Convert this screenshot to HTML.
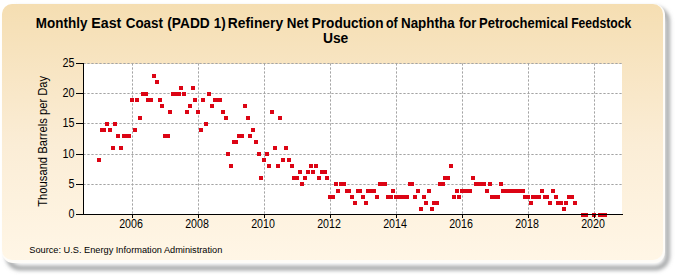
<!DOCTYPE html>
<html><head><meta charset="utf-8"><style>
html,body{margin:0;padding:0;background:#fff;width:675px;height:275px;overflow:hidden}
svg{position:absolute;left:0;top:0}
text{font-family:"Liberation Sans",sans-serif;fill:#000}
</style></head><body>
<svg width="675" height="275" viewBox="0 0 675 275">
<defs>
<linearGradient id="bg" x1="0" y1="0" x2="0" y2="1">
<stop offset="0" stop-color="#f5deb2"/>
<stop offset="0.55" stop-color="#fbedd6"/>
<stop offset="1" stop-color="#fff6e6"/>
</linearGradient>
<filter id="sh" x="-5%" y="-5%" width="110%" height="115%"><feGaussianBlur stdDeviation="2"/></filter>
<filter id="soft" x="-2%" y="-2%" width="104%" height="104%"><feGaussianBlur stdDeviation="0.6"/></filter>
</defs>
<rect x="8" y="9" width="659.5" height="259" rx="12" fill="none" stroke="#939597" stroke-width="4" filter="url(#sh)"/>
<rect x="2" y="4" width="663" height="259" rx="11" fill="#fefcf8" filter="url(#soft)"/>
<rect x="2" y="4" width="661" height="256" rx="10" fill="url(#bg)" filter="url(#soft)"/>
<g fill="#111">
<text x="35.84" y="27.6" font-size="14" font-weight="bold" textLength="51.53" lengthAdjust="spacingAndGlyphs">Monthly</text>
<text x="91.28" y="27.6" font-size="14" font-weight="bold" textLength="30.09" lengthAdjust="spacingAndGlyphs">East</text>
<text x="125.70" y="27.6" font-size="14" font-weight="bold" textLength="37.31" lengthAdjust="spacingAndGlyphs">Coast</text>
<text x="167.30" y="27.6" font-size="14" font-weight="bold" textLength="42.49" lengthAdjust="spacingAndGlyphs">(PADD</text>
<text x="213.75" y="27.6" font-size="14" font-weight="bold" textLength="11.89" lengthAdjust="spacingAndGlyphs">1)</text>
<text x="227.81" y="27.6" font-size="14" font-weight="bold" textLength="55.32" lengthAdjust="spacingAndGlyphs">Refinery</text>
<text x="286.74" y="27.6" font-size="14" font-weight="bold" textLength="21.64" lengthAdjust="spacingAndGlyphs">Net</text>
<text x="311.73" y="27.6" font-size="14" font-weight="bold" textLength="71.74" lengthAdjust="spacingAndGlyphs">Production</text>
<text x="385.90" y="27.6" font-size="14" font-weight="bold" textLength="11.71" lengthAdjust="spacingAndGlyphs">of</text>
<text x="400.94" y="27.6" font-size="14" font-weight="bold" textLength="53.66" lengthAdjust="spacingAndGlyphs">Naphtha</text>
<text x="458.90" y="27.6" font-size="14" font-weight="bold" textLength="17.39" lengthAdjust="spacingAndGlyphs">for</text>
<text x="479.07" y="27.6" font-size="14" font-weight="bold" textLength="89.00" lengthAdjust="spacingAndGlyphs">Petrochemical</text>
<text x="571.13" y="27.6" font-size="14" font-weight="bold" textLength="60.08" lengthAdjust="spacingAndGlyphs">Feedstock</text>
<text x="335.6" y="42.6" font-size="14" font-weight="bold" text-anchor="middle" textLength="25.4" lengthAdjust="spacingAndGlyphs">Use</text>
</g>
<rect x="84" y="64" width="538" height="150" fill="#fff"/>
<g stroke="#a4a4a4" stroke-width="1" stroke-dasharray="2.3,1.7" fill="none">
<line x1="83.35" y1="184.5" x2="622" y2="184.5"/>
<line x1="83.35" y1="154.5" x2="622" y2="154.5"/>
<line x1="83.35" y1="123.5" x2="622" y2="123.5"/>
<line x1="83.35" y1="93.5" x2="622" y2="93.5"/>
<line x1="83.35" y1="63.5" x2="622" y2="63.5"/>
<line x1="132.5" y1="63.35" x2="132.5" y2="214"/>
<line x1="198.5" y1="63.35" x2="198.5" y2="214"/>
<line x1="264.5" y1="63.35" x2="264.5" y2="214"/>
<line x1="330.5" y1="63.35" x2="330.5" y2="214"/>
<line x1="396.5" y1="63.35" x2="396.5" y2="214"/>
<line x1="462.5" y1="63.35" x2="462.5" y2="214"/>
<line x1="528.5" y1="63.35" x2="528.5" y2="214"/>
<line x1="594.5" y1="63.35" x2="594.5" y2="214"/>
</g>
<g fill="#dc0414">
<rect x="97" y="158" width="4" height="4"/>
<rect x="100" y="128" width="4" height="4"/>
<rect x="102" y="128" width="4" height="4"/>
<rect x="105" y="122" width="4" height="4"/>
<rect x="108" y="128" width="4" height="4"/>
<rect x="111" y="146" width="4" height="4"/>
<rect x="113" y="122" width="4" height="4"/>
<rect x="116" y="134" width="4" height="4"/>
<rect x="119" y="146" width="4" height="4"/>
<rect x="122" y="134" width="4" height="4"/>
<rect x="125" y="134" width="4" height="4"/>
<rect x="127" y="134" width="4" height="4"/>
<rect x="130" y="98" width="4" height="4"/>
<rect x="133" y="128" width="4" height="4"/>
<rect x="135" y="98" width="4" height="4"/>
<rect x="138" y="116" width="4" height="4"/>
<rect x="141" y="92" width="4" height="4"/>
<rect x="144" y="92" width="4" height="4"/>
<rect x="146" y="98" width="4" height="4"/>
<rect x="149" y="98" width="4" height="4"/>
<rect x="152" y="74" width="4" height="4"/>
<rect x="155" y="80" width="4" height="4"/>
<rect x="158" y="98" width="4" height="4"/>
<rect x="160" y="104" width="4" height="4"/>
<rect x="163" y="134" width="4" height="4"/>
<rect x="166" y="134" width="4" height="4"/>
<rect x="168" y="110" width="4" height="4"/>
<rect x="171" y="92" width="4" height="4"/>
<rect x="174" y="92" width="4" height="4"/>
<rect x="177" y="92" width="4" height="4"/>
<rect x="179" y="86" width="4" height="4"/>
<rect x="182" y="92" width="4" height="4"/>
<rect x="185" y="110" width="4" height="4"/>
<rect x="188" y="104" width="4" height="4"/>
<rect x="191" y="86" width="4" height="4"/>
<rect x="193" y="98" width="4" height="4"/>
<rect x="196" y="110" width="4" height="4"/>
<rect x="199" y="128" width="4" height="4"/>
<rect x="201" y="98" width="4" height="4"/>
<rect x="204" y="122" width="4" height="4"/>
<rect x="207" y="92" width="4" height="4"/>
<rect x="210" y="104" width="4" height="4"/>
<rect x="213" y="98" width="4" height="4"/>
<rect x="215" y="98" width="4" height="4"/>
<rect x="218" y="98" width="4" height="4"/>
<rect x="221" y="110" width="4" height="4"/>
<rect x="224" y="116" width="4" height="4"/>
<rect x="226" y="152" width="4" height="4"/>
<rect x="229" y="164" width="4" height="4"/>
<rect x="232" y="140" width="4" height="4"/>
<rect x="234" y="140" width="4" height="4"/>
<rect x="237" y="134" width="4" height="4"/>
<rect x="240" y="134" width="4" height="4"/>
<rect x="243" y="104" width="4" height="4"/>
<rect x="246" y="116" width="4" height="4"/>
<rect x="248" y="134" width="4" height="4"/>
<rect x="251" y="128" width="4" height="4"/>
<rect x="254" y="140" width="4" height="4"/>
<rect x="257" y="152" width="4" height="4"/>
<rect x="259" y="176" width="4" height="4"/>
<rect x="262" y="158" width="4" height="4"/>
<rect x="265" y="152" width="4" height="4"/>
<rect x="267" y="164" width="4" height="4"/>
<rect x="270" y="110" width="4" height="4"/>
<rect x="273" y="146" width="4" height="4"/>
<rect x="276" y="164" width="4" height="4"/>
<rect x="278" y="116" width="4" height="4"/>
<rect x="281" y="158" width="4" height="4"/>
<rect x="284" y="146" width="4" height="4"/>
<rect x="287" y="158" width="4" height="4"/>
<rect x="290" y="164" width="4" height="4"/>
<rect x="292" y="176" width="4" height="4"/>
<rect x="295" y="176" width="4" height="4"/>
<rect x="298" y="170" width="4" height="4"/>
<rect x="300" y="182" width="4" height="4"/>
<rect x="303" y="176" width="4" height="4"/>
<rect x="306" y="170" width="4" height="4"/>
<rect x="309" y="164" width="4" height="4"/>
<rect x="311" y="170" width="4" height="4"/>
<rect x="314" y="164" width="4" height="4"/>
<rect x="317" y="176" width="4" height="4"/>
<rect x="320" y="170" width="4" height="4"/>
<rect x="323" y="170" width="4" height="4"/>
<rect x="325" y="176" width="4" height="4"/>
<rect x="328" y="195" width="4" height="4"/>
<rect x="331" y="195" width="4" height="4"/>
<rect x="334" y="182" width="4" height="4"/>
<rect x="336" y="189" width="4" height="4"/>
<rect x="339" y="182" width="4" height="4"/>
<rect x="342" y="182" width="4" height="4"/>
<rect x="345" y="189" width="4" height="4"/>
<rect x="347" y="189" width="4" height="4"/>
<rect x="350" y="195" width="4" height="4"/>
<rect x="353" y="201" width="4" height="4"/>
<rect x="356" y="189" width="4" height="4"/>
<rect x="358" y="189" width="4" height="4"/>
<rect x="361" y="195" width="4" height="4"/>
<rect x="364" y="201" width="4" height="4"/>
<rect x="366" y="189" width="4" height="4"/>
<rect x="369" y="189" width="4" height="4"/>
<rect x="372" y="189" width="4" height="4"/>
<rect x="375" y="195" width="4" height="4"/>
<rect x="378" y="182" width="4" height="4"/>
<rect x="380" y="182" width="4" height="4"/>
<rect x="383" y="182" width="4" height="4"/>
<rect x="386" y="195" width="4" height="4"/>
<rect x="389" y="195" width="4" height="4"/>
<rect x="391" y="189" width="4" height="4"/>
<rect x="394" y="195" width="4" height="4"/>
<rect x="397" y="195" width="4" height="4"/>
<rect x="399" y="195" width="4" height="4"/>
<rect x="402" y="195" width="4" height="4"/>
<rect x="405" y="195" width="4" height="4"/>
<rect x="408" y="182" width="4" height="4"/>
<rect x="410" y="182" width="4" height="4"/>
<rect x="413" y="195" width="4" height="4"/>
<rect x="416" y="189" width="4" height="4"/>
<rect x="419" y="207" width="4" height="4"/>
<rect x="422" y="195" width="4" height="4"/>
<rect x="424" y="201" width="4" height="4"/>
<rect x="427" y="189" width="4" height="4"/>
<rect x="430" y="207" width="4" height="4"/>
<rect x="432" y="201" width="4" height="4"/>
<rect x="435" y="201" width="4" height="4"/>
<rect x="438" y="182" width="4" height="4"/>
<rect x="441" y="182" width="4" height="4"/>
<rect x="443" y="176" width="4" height="4"/>
<rect x="446" y="176" width="4" height="4"/>
<rect x="449" y="164" width="4" height="4"/>
<rect x="452" y="195" width="4" height="4"/>
<rect x="455" y="189" width="4" height="4"/>
<rect x="457" y="195" width="4" height="4"/>
<rect x="460" y="189" width="4" height="4"/>
<rect x="463" y="189" width="4" height="4"/>
<rect x="466" y="189" width="4" height="4"/>
<rect x="468" y="189" width="4" height="4"/>
<rect x="471" y="176" width="4" height="4"/>
<rect x="474" y="182" width="4" height="4"/>
<rect x="477" y="182" width="4" height="4"/>
<rect x="479" y="182" width="4" height="4"/>
<rect x="482" y="182" width="4" height="4"/>
<rect x="485" y="189" width="4" height="4"/>
<rect x="488" y="182" width="4" height="4"/>
<rect x="490" y="195" width="4" height="4"/>
<rect x="493" y="195" width="4" height="4"/>
<rect x="496" y="195" width="4" height="4"/>
<rect x="499" y="182" width="4" height="4"/>
<rect x="501" y="189" width="4" height="4"/>
<rect x="504" y="189" width="4" height="4"/>
<rect x="507" y="189" width="4" height="4"/>
<rect x="510" y="189" width="4" height="4"/>
<rect x="512" y="189" width="4" height="4"/>
<rect x="515" y="189" width="4" height="4"/>
<rect x="518" y="189" width="4" height="4"/>
<rect x="521" y="189" width="4" height="4"/>
<rect x="523" y="195" width="4" height="4"/>
<rect x="526" y="195" width="4" height="4"/>
<rect x="529" y="201" width="4" height="4"/>
<rect x="531" y="195" width="4" height="4"/>
<rect x="534" y="195" width="4" height="4"/>
<rect x="537" y="195" width="4" height="4"/>
<rect x="540" y="189" width="4" height="4"/>
<rect x="543" y="195" width="4" height="4"/>
<rect x="545" y="195" width="4" height="4"/>
<rect x="548" y="201" width="4" height="4"/>
<rect x="551" y="189" width="4" height="4"/>
<rect x="554" y="195" width="4" height="4"/>
<rect x="556" y="201" width="4" height="4"/>
<rect x="559" y="201" width="4" height="4"/>
<rect x="562" y="207" width="4" height="4"/>
<rect x="564" y="201" width="4" height="4"/>
<rect x="567" y="195" width="4" height="4"/>
<rect x="570" y="195" width="4" height="4"/>
<rect x="573" y="201" width="4" height="4"/>
<rect x="581" y="213" width="4" height="4"/>
<rect x="584" y="213" width="4" height="4"/>
<rect x="592" y="213" width="4" height="4"/>
<rect x="598" y="213" width="4" height="4"/>
<rect x="600" y="213" width="4" height="4"/>
<rect x="603" y="213" width="4" height="4"/>
</g>
<g stroke="#000" stroke-width="1" fill="none">
<line x1="83.5" y1="63" x2="83.5" y2="215"/>
<line x1="83" y1="214.5" x2="623" y2="214.5"/>
<line x1="76" y1="214.5" x2="83" y2="214.5"/>
<line x1="76" y1="184.5" x2="83" y2="184.5"/>
<line x1="76" y1="154.5" x2="83" y2="154.5"/>
<line x1="76" y1="123.5" x2="83" y2="123.5"/>
<line x1="76" y1="93.5" x2="83" y2="93.5"/>
<line x1="76" y1="63.5" x2="83" y2="63.5"/>
<line x1="132.5" y1="214" x2="132.5" y2="218"/>
<line x1="198.5" y1="214" x2="198.5" y2="218"/>
<line x1="264.5" y1="214" x2="264.5" y2="218"/>
<line x1="330.5" y1="214" x2="330.5" y2="218"/>
<line x1="396.5" y1="214" x2="396.5" y2="218"/>
<line x1="462.5" y1="214" x2="462.5" y2="218"/>
<line x1="528.5" y1="214" x2="528.5" y2="218"/>
<line x1="594.5" y1="214" x2="594.5" y2="218"/>
</g>
<g font-size="12" fill="#111">
<text x="74.6" y="217.8" text-anchor="end" textLength="6.0" lengthAdjust="spacingAndGlyphs">0</text>
<text x="74.6" y="187.8" text-anchor="end" textLength="6.0" lengthAdjust="spacingAndGlyphs">5</text>
<text x="74.6" y="157.8" text-anchor="end" textLength="12.0" lengthAdjust="spacingAndGlyphs">10</text>
<text x="74.6" y="126.8" text-anchor="end" textLength="12.0" lengthAdjust="spacingAndGlyphs">15</text>
<text x="74.6" y="96.8" text-anchor="end" textLength="12.0" lengthAdjust="spacingAndGlyphs">20</text>
<text x="74.6" y="66.8" text-anchor="end" textLength="12.0" lengthAdjust="spacingAndGlyphs">25</text>
<text x="131.0" y="227.6" text-anchor="middle" textLength="23.7" lengthAdjust="spacingAndGlyphs">2006</text>
<text x="197.0" y="227.6" text-anchor="middle" textLength="23.7" lengthAdjust="spacingAndGlyphs">2008</text>
<text x="263.0" y="227.6" text-anchor="middle" textLength="23.7" lengthAdjust="spacingAndGlyphs">2010</text>
<text x="329.0" y="227.6" text-anchor="middle" textLength="23.7" lengthAdjust="spacingAndGlyphs">2012</text>
<text x="395.0" y="227.6" text-anchor="middle" textLength="23.7" lengthAdjust="spacingAndGlyphs">2014</text>
<text x="461.0" y="227.6" text-anchor="middle" textLength="23.7" lengthAdjust="spacingAndGlyphs">2016</text>
<text x="527.0" y="227.6" text-anchor="middle" textLength="23.7" lengthAdjust="spacingAndGlyphs">2018</text>
<text x="593.0" y="227.6" text-anchor="middle" textLength="23.7" lengthAdjust="spacingAndGlyphs">2020</text>
</g>
<text transform="translate(47.4,141.3) rotate(-90)" text-anchor="middle" font-size="12" textLength="131" lengthAdjust="spacingAndGlyphs" fill="#111">Thousand Barrels per Day</text>
<text x="29.3" y="252.7" font-size="9.7" textLength="193" lengthAdjust="spacingAndGlyphs" fill="#111">Source: U.S. Energy Information Administration</text>
</svg>
</body></html>
